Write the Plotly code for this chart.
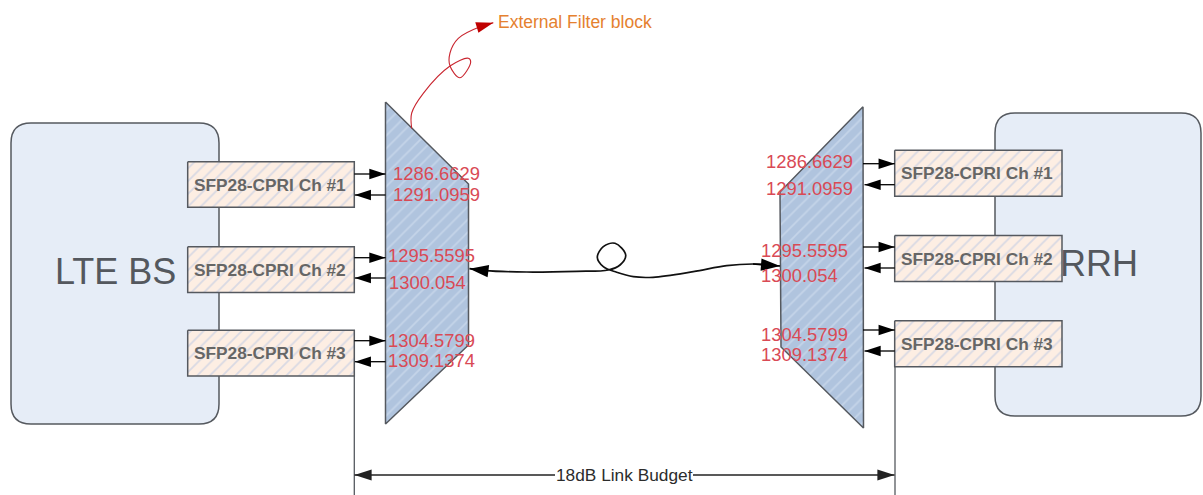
import math
import plotly.graph_objects as go

# --- data ---------------------------------------------------------------
channel_labels = ["SFP28-CPRI Ch #1", "SFP28-CPRI Ch #2", "SFP28-CPRI Ch #3"]
wavelengths = ["1286.6629", "1291.0959", "1295.5595", "1300.054", "1304.5799", "1309.1374"]

left_box_x = [187.7, 354.3]
left_box_y = [[161.7, 207.3], [246.8, 292.6], [330.3, 376]]
right_box_x = [894.7, 1062]
right_box_y = [[150.3, 196.3], [235.5, 281.5], [320.7, 366.7]]

left_arrow_y = [174, 195, 257.7, 278, 340.7, 361.7]
right_arrow_y = [163.7, 184.7, 247, 268, 330, 351]

left_wave_x = [391, 391, 385.5, 386.5, 386, 386]
left_wave_y = [173, 194, 255.7, 282, 340, 360.7]
right_wave_x = [764, 764, 758.5, 759, 758.5, 758.5]
right_wave_y = [161, 188.7, 250, 275.7, 334, 354]

left_filter_x = [385.5, 468.5, 468.5, 385.5]
left_filter_y = [102, 184, 345, 424]
right_filter_x = [863, 863.5, 781, 780]
right_filter_y = [106.7, 428, 347, 192]

fiber_x = [478, 485, 526.7, 576.7, 608.3, 620, 625.7, 615, 603.3, 597.3, 603.3, 616.7, 633.3, 653, 693.3, 726.7, 753, 770]
fiber_y = [269.8, 270.7, 272, 271.3, 270, 265, 255, 243.3, 246.7, 257.3, 266.7, 272.3, 276.7, 277.3, 271.7, 265.7, 264, 264.8]

callout_x = [411.7, 411.7, 423.3, 450, 468.3, 470.7, 460, 450, 450, 458.3, 482]
callout_y = [128.3, 113, 93.3, 66, 58.3, 62, 77.7, 66, 53, 38.3, 26]

base_labels = ["LTE BS", "RRH"]
base_x = [[11, 219], [995, 1201]]
base_y = [[123, 424], [113, 416]]
base_text_x = [115, 1099]
base_text_y = [271, 263]

callout_text = "External Filter block"
budget_text = "18dB Link Budget"
budget_x = [354.5, 555, 693, 894.5]
budget_y = 475

# --- styles -------------------------------------------------------------
EDGE = "#55595f"
FONT = "Liberation Sans, Arial, sans-serif"


def rounded(x, y, r=20):
    x0, x1 = x
    y0, y1 = y
    return (f"M{x0+r},{y0} L{x1-r},{y0} Q{x1},{y0} {x1},{y0+r} L{x1},{y1-r} Q{x1},{y1} {x1-r},{y1} "
            f"L{x0+r},{y1} Q{x0},{y1} {x0},{y1-r} L{x0},{y0+r} Q{x0},{y0} {x0+r},{y0} Z")


fig = go.Figure()


def polygon(xs, ys, bg, fg, solidity, size):
    fig.add_trace(go.Scatter(
        x=xs + xs[:1], y=ys + ys[:1], mode="lines", fill="toself",
        fillcolor=bg, fillpattern=dict(shape="/", bgcolor=bg, fgcolor=fg, size=size, solidity=solidity),
        line=dict(color=EDGE, width=1.5), hoverinfo="skip", showlegend=False))


def line(xs, ys, color=EDGE, width=1.3, shape="linear"):
    fig.add_trace(go.Scatter(x=xs, y=ys, mode="lines", hoverinfo="skip", showlegend=False,
                             line=dict(color=color, width=width, shape=shape, smoothing=1.0)))


def head(x_from, y_from, x_to, y_to, color="#000000", width=1.3, size=17):
    # shaft plus a filled head whose tip sits on the target point
    line([x_from, x_to], [y_from, y_to], color=color, width=width)
    angle = math.degrees(math.atan2(x_to - x_from, -(y_to - y_from)))
    fig.add_trace(go.Scatter(x=[x_to], y=[y_to], mode="markers", hoverinfo="skip", showlegend=False,
                             marker=dict(symbol="arrow", size=size, angle=angle, color=color,
                                         line=dict(width=0))))


def label(x, y, text, size, color, anchor="center", bold=False):
    fig.add_annotation(x=x, y=y, xref="x", yref="y", text=f"<b>{text}</b>" if bold else text, showarrow=False,
                       xanchor=anchor, yanchor="middle", font=dict(family=FONT, size=size, color=color))


# base station bodies
shapes = [dict(type="path", path=rounded(bx, by), fillcolor="#e6edf7", line=dict(color=EDGE, width=1.5),
               layer="below", xref="x", yref="y") for bx, by in zip(base_x, base_y)]

# filters
polygon(left_filter_x, left_filter_y, "#b0c4de", "#d8e3f2", 0.2, 9)
polygon(right_filter_x, right_filter_y, "#b0c4de", "#d8e3f2", 0.2, 9)

# transceiver boxes
for bx, ys in ((left_box_x, left_box_y), (right_box_x, right_box_y)):
    for y0, y1 in ys:
        polygon([bx[0], bx[1], bx[1], bx[0]], [y0, y0, y1, y1], "#fdeee3", "#b4c4e4", 0.2, 9)

# budget extension lines
line([left_box_x[1]] * 2, [left_box_y[2][1], 495])
line([right_box_x[0] + 0.3] * 2, [right_box_y[2][1], 495])

# fibre and callout
line(fiber_x, fiber_y, color="#111111", width=1.7, shape="spline")
line(callout_x, callout_y, color="#c9252f", width=1.1, shape="spline")

# channel arrows
for i, y in enumerate(left_arrow_y):
    if i % 2 == 0:
        head(left_box_x[1], y, left_filter_x[0], y)
    else:
        head(left_filter_x[0], y, left_box_x[1] + 0.5, y)
for i, y in enumerate(right_arrow_y):
    if i % 2 == 0:
        head(right_filter_x[0], y, right_box_x[0], y)
    else:
        head(right_box_x[0], y, right_filter_x[1] + 1, y)

head(fiber_x[1], fiber_y[1], 469.5, 268.7, width=1.7, size=20)
head(fiber_x[-2], fiber_y[-2], 780, 266, width=1.7, size=20)
head(callout_x[-1], callout_y[-1], 493.3, 22.7, color="#c00000", width=1.1, size=18)

# budget arrow
head(budget_x[1], budget_y, budget_x[0], budget_y, color="#222222", size=18)
head(budget_x[2], budget_y, budget_x[3], budget_y, color="#222222", size=18)

# texts
for y, text in zip(left_box_y, channel_labels):
    label(sum(left_box_x) / 2 - 1, sum(y) / 2, text, 17.3, "#666666", bold=True)
for y, text in zip(right_box_y, channel_labels):
    label(sum(right_box_x) / 2 - 1, sum(y) / 2, text, 17.3, "#666666", bold=True)
for x, y, text in zip(left_wave_x, left_wave_y, wavelengths):
    label(x, y, text, 18.4, "#d94a55", anchor="left")
for x, y, text in zip(right_wave_x, right_wave_y, wavelengths):
    label(x, y, text, 18.4, "#d94a55", anchor="left")
for x, y, text in zip(base_text_x, base_text_y, base_labels):
    label(x, y, text, 36, "#54585e")
label(496, 22, callout_text, 17.5, "#e5812f", anchor="left")
label((budget_x[1] + budget_x[2]) / 2, budget_y, budget_text, 17.3, "#2c2c2c")

fig.update_layout(
    width=1203, height=495, margin=dict(l=0, r=0, t=0, b=0),
    paper_bgcolor="white", plot_bgcolor="white", showlegend=False, shapes=shapes,
    xaxis=dict(range=[0, 1203], visible=False, fixedrange=True),
    yaxis=dict(range=[495, 0], visible=False, fixedrange=True),
)

fig.write_html("out.html", config=dict(displayModeBar=False),
               post_script="document.body.style.margin='0';document.documentElement.style.overflow='hidden';")
